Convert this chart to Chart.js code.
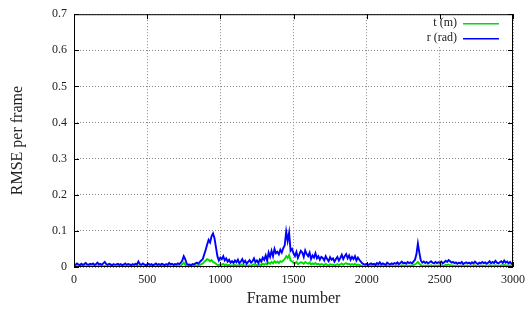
<!DOCTYPE html>
<html>
<head>
<meta charset="utf-8">
<script src="https://cdn.jsdelivr.net/npm/chart.js@4/dist/chart.umd.min.js"></script>
<style>
  html, body { margin: 0; padding: 0; background: #fff; }
  #wrap { width: 531px; height: 310px; }
</style>
</head>
<body>
<div id="wrap"><canvas id="rmseChart" width="531" height="310"></canvas></div>
<script>
const FRAME_STEP = 10;

const seriesNames = ['t (m)', 'r (rad)'];

const rRad = [
  .008,.006,.010,.007,.005,.009,.006,.008,.011,.007,
  .006,.009,.007,.010,.006,.008,.012,.007,.009,.006,
  .010,.014,.008,.006,.009,.007,.005,.008,.006,.007,
  .009,.006,.008,.005,.007,.010,.006,.008,.007,.005,
  .008,.006,.009,.007,.015,.008,.006,.010,.007,.005,
  .007,.009,.006,.008,.005,.007,.010,.006,.008,.006,
  .009,.007,.005,.008,.006,.011,.007,.009,.006,.008,
  .007,.010,.008,.012,.018,.030,.022,.009,.006,.007,
  .005,.008,.007,.010,.012,.009,.014,.018,.022,.035,
  .048,.062,.075,.068,.085,.093,.080,.055,.030,.018,
  .026,.022,.030,.018,.024,.015,.020,.012,.016,.011,
  .018,.013,.020,.010,.015,.022,.012,.017,.009,.014,
  .019,.012,.016,.024,.013,.018,.011,.021,.015,.026,
  .020,.032,.018,.040,.028,.045,.030,.050,.038,.042,
  .035,.048,.040,.052,.060,.098,.072,.095,.045,.050,
  .038,.030,.042,.025,.035,.045,.040,.028,.046,.036,
  .030,.040,.022,.032,.026,.038,.024,.030,.020,.028,
  .025,.018,.030,.022,.016,.027,.020,.024,.015,.022,
  .028,.018,.025,.034,.022,.030,.036,.024,.032,.020,
  .028,.022,.030,.018,.026,.020,.015,.010,.008,.007,
  .009,.006,.008,.010,.007,.009,.006,.011,.008,.013,
  .007,.010,.008,.006,.012,.009,.007,.010,.008,.011,
  .009,.013,.008,.011,.015,.010,.012,.009,.014,.011,
  .013,.010,.015,.020,.035,.065,.040,.018,.012,.015,
  .011,.014,.010,.013,.016,.012,.010,.014,.011,.013,
  .012,.015,.010,.013,.017,.014,.019,.016,.012,.014,
  .011,.013,.009,.012,.010,.014,.008,.011,.013,.010,
  .012,.009,.013,.010,.015,.011,.008,.012,.010,.014,
  .011,.013,.009,.012,.016,.010,.014,.011,.017,.012,
  .010,.013,.016,.011,.018,.012,.015,.010,.014,.009,
  .011
];

const tM = [
  .002,.003,.001,.002,.003,.002,.001,.003,.002,.002,
  .003,.002,.001,.002,.003,.002,.002,.001,.003,.002,
  .002,.003,.002,.001,.002,.003,.002,.002,.001,.002,
  .003,.002,.002,.001,.003,.002,.001,.002,.002,.003,
  .002,.001,.002,.003,.004,.002,.002,.001,.002,.003,
  .002,.002,.001,.003,.002,.002,.003,.001,.002,.002,
  .003,.002,.001,.002,.002,.003,.002,.001,.002,.003,
  .002,.003,.002,.004,.008,.012,.006,.003,.002,.002,
  .002,.003,.002,.004,.005,.003,.006,.008,.010,.014,
  .018,.022,.020,.016,.019,.014,.012,.009,.006,.005,
  .008,.006,.009,.005,.007,.004,.006,.003,.005,.004,
  .006,.004,.005,.003,.005,.007,.004,.005,.003,.004,
  .005,.003,.006,.008,.004,.006,.003,.007,.005,.009,
  .006,.010,.007,.012,.009,.014,.010,.016,.012,.015,
  .011,.016,.014,.018,.022,.030,.025,.033,.018,.015,
  .012,.010,.014,.008,.011,.013,.012,.009,.014,.011,
  .009,.012,.007,.010,.008,.011,.007,.009,.006,.008,
  .007,.005,.009,.006,.004,.008,.006,.007,.004,.006,
  .008,.005,.007,.010,.006,.009,.011,.007,.009,.006,
  .008,.006,.009,.005,.007,.006,.004,.003,.002,.002,
  .003,.002,.002,.003,.002,.003,.002,.004,.002,.004,
  .002,.003,.002,.002,.004,.003,.002,.003,.002,.003,
  .003,.004,.002,.003,.005,.003,.004,.002,.004,.003,
  .004,.003,.005,.007,.010,.014,.009,.005,.003,.004,
  .003,.004,.003,.004,.005,.003,.003,.004,.003,.004,
  .004,.005,.003,.004,.006,.005,.007,.005,.004,.004,
  .003,.004,.002,.003,.003,.004,.002,.003,.004,.003,
  .003,.002,.004,.003,.005,.003,.002,.004,.003,.004,
  .003,.004,.002,.003,.005,.003,.004,.003,.005,.004,
  .003,.004,.005,.003,.006,.004,.005,.003,.004,.002,
  .003
];

const seriesColors = ['#00dd00', '#0000ff'];

const FONT = "'Liberation Serif', 'DejaVu Serif', serif";

const toPoints = vals => vals.map((v, i) => ({ x: i * FRAME_STEP, y: v }));

// gnuplot-ish frame: white key box, border, inward ticks on all four sides
const gnuplotFrame = {
  id: 'gnuplotFrame',
  afterDraw(chart) {
    const { ctx, chartArea: a, scales } = chart;
    ctx.save();

    // key
    ctx.fillStyle = '#fff';
    ctx.fillRect(a.right - 118, a.top + 1, 116, 31);
    ctx.font = '12px ' + FONT;
    ctx.fillStyle = '#222';
    ctx.textAlign = 'right';
    ctx.textBaseline = 'middle';
    chart.data.datasets.forEach((ds, i) => {
      const y = a.top + 9 + i * 15;
      ctx.fillText(ds.label, a.right - 56, y);
      ctx.strokeStyle = ds.borderColor;
      ctx.lineWidth = 1.4;
      ctx.beginPath();
      ctx.moveTo(a.right - 50, y + 0.5);
      ctx.lineTo(a.right - 14, y + 0.5);
      ctx.stroke();
    });

    ctx.strokeStyle = '#000';
    ctx.lineWidth = 1;
    ctx.strokeRect(a.left + 0.5, a.top + 0.5, a.right - a.left - 1, a.bottom - a.top - 1);

    const tick = 5;
    ctx.beginPath();
    scales.x.ticks.forEach(t => {
      const x = Math.round(scales.x.getPixelForValue(t.value)) + 0.5;
      ctx.moveTo(x, a.bottom); ctx.lineTo(x, a.bottom - tick);
      ctx.moveTo(x, a.top); ctx.lineTo(x, a.top + tick);
    });
    scales.y.ticks.forEach(t => {
      const y = Math.round(scales.y.getPixelForValue(t.value)) + 0.5;
      ctx.moveTo(a.left, y); ctx.lineTo(a.left + tick, y);
      ctx.moveTo(a.right, y); ctx.lineTo(a.right - tick, y);
    });
    ctx.stroke();
    ctx.restore();
  }
};

new Chart(document.getElementById('rmseChart'), {
  type: 'line',
  data: {
    datasets: [
      { label: seriesNames[0], data: toPoints(tM), borderColor: seriesColors[0], order: 1 },
      { label: seriesNames[1], data: toPoints(rRad), borderColor: seriesColors[1], order: 0 }
    ]
  },
  options: {
    responsive: false,
    animation: false,
    layout: { padding: { top: 10, right: 14, left: 0, bottom: 0 } },
    elements: {
      point: { radius: 0 },
      line: { borderWidth: 1.9, tension: 0, fill: false }
    },
    plugins: { legend: { display: false }, tooltip: { enabled: false } },
    scales: {
      x: {
        type: 'linear',
        min: 0,
        max: 3000,
        afterFit: s => { s.height = 43; },
        ticks: {
          stepSize: 500, padding: 6, color: '#222', font: { family: FONT, size: 12 }, maxRotation: 0,
          callback: v => String(v)
        },
        grid: { color: '#888', drawTicks: false, lineWidth: 1 },
        border: { display: false, dash: [1, 2] },
        title: { display: true, text: 'Frame number', color: '#222', font: { family: FONT, size: 16 }, padding: { top: 0, bottom: 2 } }
      },
      y: {
        min: 0,
        max: 0.7,
        afterFit: s => { s.width = 74; },
        ticks: {
          stepSize: 0.1, padding: 7, color: '#222', font: { family: FONT, size: 12 },
          callback: v => v === 0 ? '0' : v.toFixed(1)
        },
        grid: { color: '#888', drawTicks: false, lineWidth: 1 },
        border: { display: false, dash: [1, 2] },
        title: { display: true, text: 'RMSE per frame', color: '#222', font: { family: FONT, size: 16 }, padding: { top: 8, bottom: 0 } }
      }
    }
  },
  plugins: [gnuplotFrame]
});
</script>
</body>
</html>
